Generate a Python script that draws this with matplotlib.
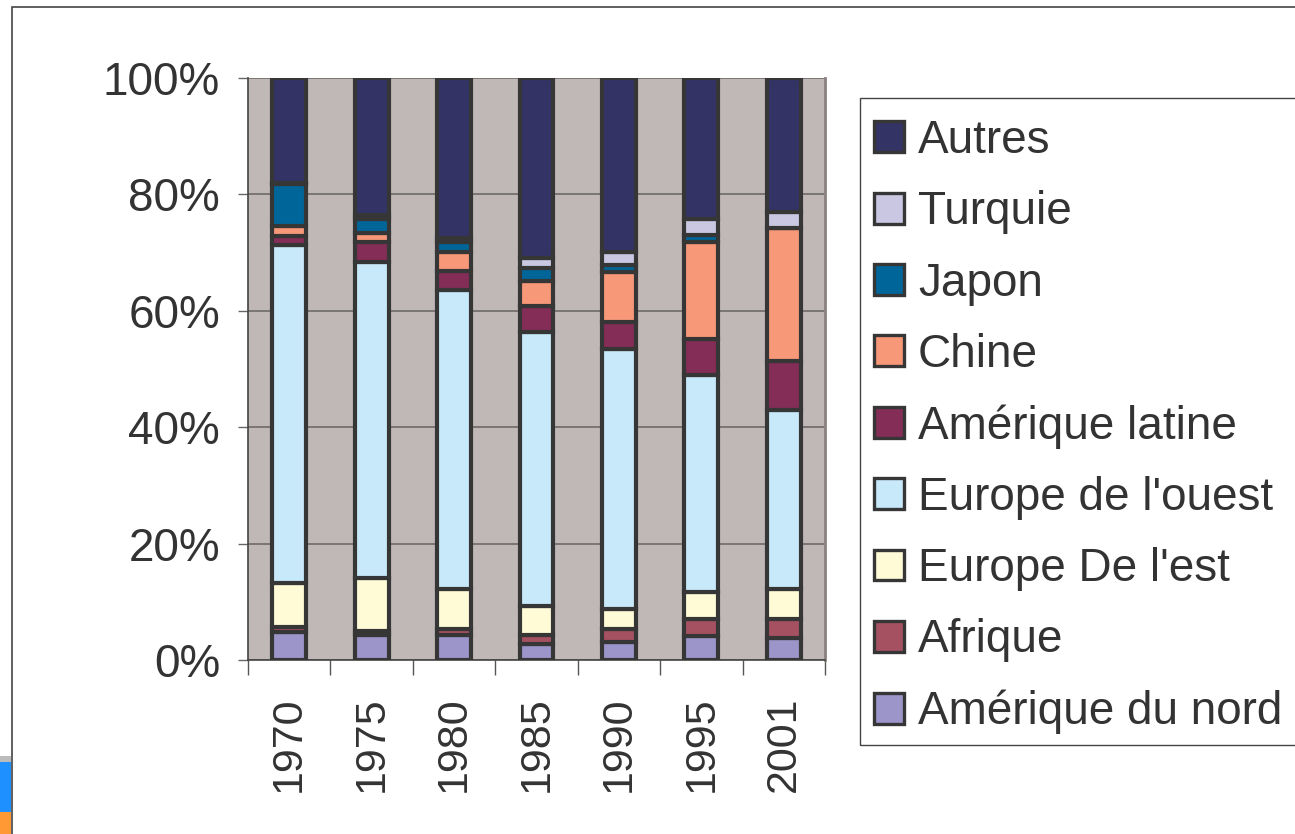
import matplotlib.pyplot as plt
from matplotlib.patches import Rectangle, Patch
from matplotlib.ticker import FixedLocator, NullFormatter

plt.rcParams['font.family'] = ['Liberation Sans', 'DejaVu Sans']

# données (parts en %)
annees = ['1970', '1975', '1980', '1985', '1990', '1995', '2001']
series = ['Amérique du nord', 'Afrique', 'Europe De l\'est', 'Europe de l\'ouest',
          'Amérique latine', 'Chine', 'Japon', 'Turquie', 'Autres']
amerique_nord = [4.8, 4.3, 4.3, 2.7, 3.1, 4.2, 3.7]
afrique = [0.9, 0.7, 1.0, 1.6, 2.2, 2.8, 3.3]
europe_est = [7.5, 9.1, 6.9, 5.0, 3.5, 4.6, 5.2]
europe_ouest = [58.1, 54.3, 51.3, 47.1, 44.7, 37.4, 30.8]
amerique_latine = [1.6, 3.4, 3.3, 4.4, 4.6, 6.1, 8.3]
chine = [1.7, 1.6, 3.3, 4.3, 8.6, 16.7, 22.9]
japon = [7.2, 2.4, 1.7, 2.3, 1.2, 1.2, 0.1]
turquie = [0.2, 0.7, 0.7, 1.7, 2.2, 2.7, 2.7]
autres = [18.0, 23.5, 27.5, 30.9, 29.9, 24.3, 23.0]

valeurs = [amerique_nord, afrique, europe_est, europe_ouest, amerique_latine,
           chine, japon, turquie, autres]
couleurs = ['#9B95C9', '#A65161', '#FEFBD6', '#C7E9F9', '#842D57',
            '#F79879', '#006699', '#C9C7E1', '#333366']

texte = '#333333'
bord = '#363636'

fig = plt.figure(figsize=(12.95, 8.34), dpi=100)
ax = fig.add_axes([248 / 1295, 174 / 834, 577 / 1295, 582 / 834])
ax.set_facecolor('#C0B8B6')

x = range(len(annees))
bas = [0.0] * len(annees)
for vals, c in zip(valeurs, couleurs):
    ax.bar(x, vals, bottom=bas, width=0.41, color=c, edgecolor=bord,
           linewidth=3, zorder=3)
    bas = [b + v for b, v in zip(bas, vals)]

ax.set_xlim(-0.5, len(annees) - 0.5)
ax.set_ylim(0, 100)

# axe y
ax.set_yticks([0, 20, 40, 60, 80, 100])
ax.set_yticklabels(['0%', '20%', '40%', '60%', '80%', '100%'])
ax.yaxis.grid(True, color='#6E6A68', linewidth=1.2, zorder=0)
ax.tick_params(axis='y', length=7, width=1, color='#666666', pad=13,
               labelsize=33, labelcolor=texte)

# axe x : traits entre les catégories, étiquettes au centre
ax.xaxis.set_major_locator(FixedLocator([i - 0.5 for i in range(len(annees) + 1)]))
ax.xaxis.set_major_formatter(NullFormatter())
ax.xaxis.set_minor_locator(FixedLocator(list(x)))
ax.set_xticklabels(annees, minor=True, rotation=90)
ax.tick_params(axis='x', which='major', length=11, width=1, color='#555555')
ax.tick_params(axis='x', which='minor', length=0, pad=26, labelsize=31,
               labelcolor=texte)

for s in ['left', 'bottom']:
    ax.spines[s].set_color('#444444')
    ax.spines[s].set_linewidth(1.2)
ax.spines['right'].set_color('#8A8280')
ax.spines['right'].set_linewidth(2)
ax.spines['top'].set_visible(False)

# légende (ordre inverse de l'empilement)
poignees = [Patch(facecolor=c, edgecolor=bord, linewidth=2.4) for c in couleurs[::-1]]
fig.legend(poignees, series[::-1], loc='upper left',
           bbox_to_anchor=(874 / 1295, 1 - 119 / 834), frameon=False,
           fontsize=33, labelcolor=texte, handlelength=0.66, handleheight=0.66,
           handletextpad=0.3, labelspacing=0.595, borderpad=0, borderaxespad=0)
fig.patches.append(Rectangle((860 / 1295, 1 - 745 / 834), 0.5, 647 / 834,
                             transform=fig.transFigure, fill=False,
                             edgecolor='#444444', linewidth=1))

# cadre du graphique
fig.patches.append(Rectangle((12 / 1295, -0.1), 1.2, 1.1 - 7 / 834,
                             transform=fig.transFigure, fill=False,
                             edgecolor='#444444', linewidth=1.2))

# petit reste d'icône en bas à gauche
fig.patches.append(Rectangle((0, 0), 11 / 1295, 72 / 834, transform=fig.transFigure,
                             facecolor='#1E90FF', edgecolor='none'))
fig.patches.append(Rectangle((0, 0), 11 / 1295, 22 / 834, transform=fig.transFigure,
                             facecolor='#FF9933', edgecolor='none'))
fig.patches.append(Rectangle((0, 72 / 834), 11 / 1295, 6 / 834, transform=fig.transFigure,
                             facecolor='#BBBBBB', edgecolor='none'))

fig.savefig('out.png', dpi=100)
